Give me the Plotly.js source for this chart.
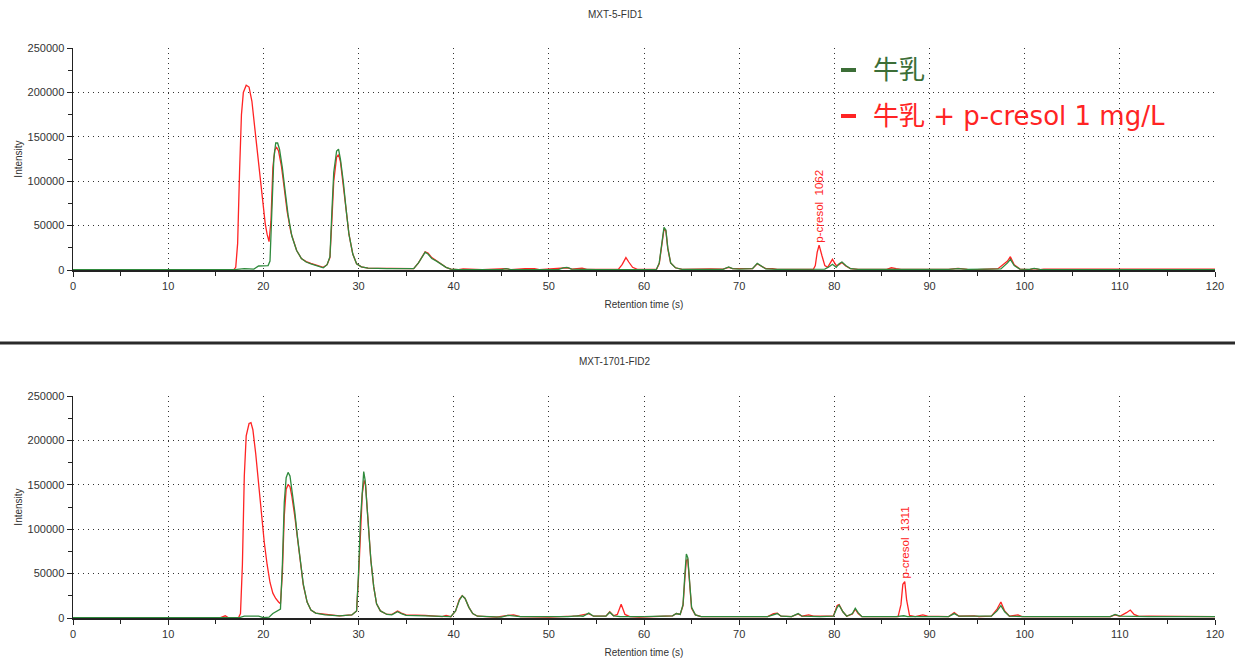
<!DOCTYPE html>
<html>
<head>
<meta charset="utf-8">
<script src="https://cdn.plot.ly/plotly-3.0.1.min.js"></script>
<style>html,body{margin:0;padding:0;background:#fff;}#chart{width:1235px;height:660px;}</style>
</head>
<body>
<div id="chart"></div>
<script>
// ---------- DATA ----------
const panelTitles = ["MXT-5-FID1", "MXT-1701-FID2"];
const seriesNames = ["牛乳", "牛乳 + p-cresol 1 mg/L"];
const peakLabels = ["p-cresol  1062", "p-cresol  1311"];
const peakLabelTimes = [78.4, 87.4];
const peakLabelValues = [28000, 42000];

// Top panel (MXT-5-FID1) - milk (green)
const topMilkT = [0,10,17,18,19,19.5,20.5,20.7,20.9,21.1,21.3,21.5,21.7,22.0,22.3,22.6,23.0,23.5,24.0,24.5,25.0,25.5,26.0,26.3,26.7,27.0,27.2,27.4,27.7,27.9,28.1,28.4,28.7,29.0,29.4,29.8,30.3,31,33,35,35.8,36.3,36.8,37.0,37.3,37.7,38.2,38.7,39.2,39.7,40.5,45,45.5,46,51,51.5,51.9,52.4,53,55,57,60,61.3,61.6,61.9,62.1,62.3,62.5,62.8,63.3,64,68.3,68.9,69.3,70,71.4,71.9,72.3,72.8,74,76,77,78,78.4,79,79.5,79.8,80.2,80.5,80.8,81.2,81.7,82.5,92,93,94,97.5,98.2,98.5,98.9,99.5,100.5,101,101.6,105,120];
const topMilkV = [500,500,500,1500,1000,4500,5000,10000,60000,125000,143000,143000,136000,115000,88000,62000,38000,22000,13000,9000,7000,5500,3500,2500,6000,15000,65000,110000,134000,136000,125000,100000,68000,40000,18000,7000,3500,2000,1500,1000,1500,8000,17000,20000,18000,13000,10000,6500,3000,1000,500,500,1500,500,500,2500,3000,1000,800,300,300,500,600,8000,35000,48000,45000,25000,8000,2500,800,800,3500,1500,1000,1500,7500,5000,1200,800,1000,1000,700,1500,1000,4000,6500,3000,7000,9000,5000,1500,800,700,1500,700,1200,8000,12000,5000,1000,800,1800,800,500,500];

// Top panel - milk + p-cresol (red)
const topSpikedT = [0,10,16.9,17.1,17.3,17.5,17.7,17.9,18.2,18.5,18.8,19.1,19.4,19.7,20.0,20.2,20.4,20.6,20.8,21.0,21.2,21.4,21.6,21.9,22.2,22.5,22.9,23.5,24.0,24.5,25.0,25.5,26.0,26.3,26.7,27.0,27.2,27.4,27.7,27.9,28.1,28.4,28.7,29.0,29.4,29.8,30.3,31,33,34.2,35,35.8,36.3,36.8,37.0,37.3,37.7,38.2,38.7,39.2,39.7,40.5,41,42.5,43,45.5,46,47.5,48.5,49,51.5,52,52.4,53.5,54,57.3,57.7,58.1,58.4,58.8,59.3,61.3,61.6,61.9,62.1,62.3,62.5,62.8,63.3,64,65,67,68.3,68.9,69.3,71.4,71.9,72.3,72.8,73.5,74,77.8,78.0,78.2,78.4,78.7,79.0,79.3,79.8,80.2,80.5,80.8,81.2,81.7,82.5,85.5,86,86.5,87,92,93,94,95,97.2,98.2,98.5,98.9,99.5,100.5,101,101.6,102,120];
const topSpikedV = [500,500,500,3000,30000,110000,175000,200000,208000,206000,190000,160000,130000,100000,70000,52000,40000,32000,55000,115000,135000,138000,134000,117000,92000,66000,42000,22000,13000,9500,7500,6000,4000,3000,6000,14000,55000,100000,127000,130000,122000,98000,68000,40000,18000,7000,3500,2000,1500,2000,1000,1500,8000,18000,20500,19000,14000,10500,6500,3000,1000,500,1200,1200,500,1500,500,1500,1500,500,2000,2500,1000,2000,800,800,6000,14000,9000,3000,800,600,7000,33000,46000,44000,24000,8000,2500,800,1200,1200,900,3000,1500,1500,7000,4500,1500,1500,800,800,5000,20000,28000,16000,5000,3000,12000,5000,6000,8500,4500,1500,800,800,2500,1500,800,800,1800,800,300,1500,10000,15000,6000,1000,300,1500,500,1000,1000];

// Bottom panel (MXT-1701-FID2) - milk (green)
const botMilkT = [0,17.5,18,19.5,20,20.6,21.0,21.4,21.8,22.0,22.2,22.4,22.6,22.8,23.0,23.3,23.6,23.9,24.2,24.6,25.0,25.5,26.5,28,29.3,29.8,30.0,30.2,30.4,30.55,30.7,30.9,31.1,31.3,31.6,31.9,32.3,33,33.5,34.1,34.5,35,37,39,39.7,40.2,40.6,40.9,41.2,41.6,42.0,42.5,43.5,45,45.7,46.5,47,52,53,53.6,54.2,54.7,56,56.4,56.8,57.5,60,63.0,63.4,63.8,64.1,64.3,64.45,64.6,64.8,65.0,65.4,66,73,73.6,74,74.4,75.5,76.2,76.6,78.5,79.9,80.3,80.5,80.9,81.3,81.9,82.2,82.5,82.9,86.5,87.3,87.7,92,92.6,93.1,96.5,97.1,97.5,97.9,98.4,100,109,109.5,110,113,120];
const botMilkV = [500,500,2000,2000,500,1000,5000,8000,10000,60000,130000,158000,164000,160000,145000,120000,90000,62000,38000,18000,9000,5500,3500,2500,3500,8000,50000,110000,150000,165000,155000,125000,95000,65000,35000,16000,8000,4000,3500,7000,5000,3000,2500,2000,1500,8000,20000,25000,22000,12000,5000,2000,1500,1000,3000,2500,1500,1500,2500,2000,5500,2000,2000,6500,2500,1500,1500,2500,5000,4000,15000,50000,72000,68000,35000,12000,3500,1500,1500,4000,5000,2000,1500,5000,2000,1500,2000,12000,14500,7000,2000,5000,11000,6000,1500,1500,2500,1500,1500,5000,2000,2000,8000,14000,7000,2000,1500,1500,4000,2000,1500,1500];

// Bottom panel - milk + p-cresol (red)
const botSpikedT = [0,15.5,16,16.3,17.4,17.6,17.8,18.0,18.2,18.5,18.7,18.9,19.2,19.5,19.8,20.1,20.4,20.7,21.0,21.3,21.6,21.8,22.0,22.2,22.4,22.6,22.8,23.0,23.3,23.6,23.9,24.2,24.6,25.0,25.5,26.5,28,29.3,29.8,30.0,30.2,30.4,30.6,30.75,30.9,31.1,31.3,31.6,31.9,32.3,33,33.5,34.1,34.5,35,37,38.8,39.2,39.7,40.2,40.6,40.9,41.2,41.6,42.0,42.5,43.5,44.5,45.7,46.3,47,50,52.5,53,54.2,54.7,56,56.4,56.8,57.2,57.6,58,58.5,59.5,63.0,63.4,63.8,64.1,64.3,64.45,64.6,64.8,65.0,65.4,66,73,73.6,74,74.4,75.5,76.2,76.6,77.3,77.8,79.9,80.3,80.5,80.9,81.3,81.9,82.2,82.5,82.9,86.7,87.0,87.2,87.4,87.6,87.9,88.5,89.3,89.8,92,92.6,93.1,94.7,95.2,96.5,97.1,97.5,97.9,98.4,99.3,99.7,109,109.5,110,110.7,111.1,111.5,112,113,120];
const botSpikedV = [500,500,2500,500,500,5000,60000,160000,205000,219000,220000,212000,185000,150000,120000,85000,60000,40000,28000,22000,18000,16000,50000,115000,145000,150000,148000,137000,115000,88000,60000,37000,18000,9000,5500,4000,2500,3500,8000,45000,100000,140000,155000,150000,125000,95000,65000,35000,16000,8000,4000,4000,8000,5500,3500,3000,1500,3000,1500,8000,21000,25000,22000,12000,5000,2000,1500,1000,3000,3500,1500,1000,2000,2500,5000,2000,2000,7000,2500,4000,15500,4000,1500,1000,2500,5000,4000,14000,45000,65000,66000,33000,11000,3500,1500,1500,5000,5500,2000,1500,4500,2000,3500,2000,2000,14000,15000,7000,2000,4500,10000,5000,1500,1500,15000,38000,41000,20000,3000,1500,3500,2000,1500,6000,2000,2500,1500,2000,10000,18000,8000,2000,3500,1500,1500,3500,2000,6000,9000,4000,1800,2000,1500];

// ---------- STYLE ----------
const GREEN = "#2f8a3c";
const GREEN_TEXT = "#3c6e37";
const RED = "#ff2424";
const W = 1235, H = 660, ML = 73, MR = 20;
const PW = W - ML - MR;
const px = v => (v - ML) / PW;          // page x pixel -> paper x
const py = v => 1 - v / H;              // page y pixel -> paper y

const tickFont = {family: "Liberation Sans, Arial, sans-serif", size: 11, color: "#333"};
const titleFont = {family: "Liberation Sans, Arial, sans-serif", size: 10, color: "#333"};

function xAxis(anchor) {
  return {
    anchor: anchor, domain: [0, 1], range: [0, 120], tick0: 0, dtick: 10,
    showgrid: true, gridcolor: "#333", griddash: "1px,4px", gridwidth: 1,
    showline: true, linecolor: "#222", linewidth: 1.5, zeroline: false,
    ticks: "outside", ticklen: 5, tickcolor: "#222", tickwidth: 1,
    minor: {dtick: 5, ticks: "outside", ticklen: 4, tickcolor: "#222", showgrid: false},
    tickfont: tickFont, automargin: false, fixedrange: true,
    title: {text: "Retention time (s)", font: titleFont, standoff: 10}
  };
}
function yAxis(anchor, dom) {
  return {
    anchor: anchor, domain: dom, range: [0, 250000], tick0: 0, dtick: 50000,
    tickformat: "d", showgrid: true, gridcolor: "#333", griddash: "1px,4px", gridwidth: 1,
    showline: true, linecolor: "#222", linewidth: 1.5, zeroline: false,
    ticks: "outside", ticklen: 5, tickcolor: "#222", tickwidth: 1,
    minor: {dtick: 25000, ticks: "outside", ticklen: 4, tickcolor: "#222", showgrid: false},
    tickfont: tickFont, automargin: false, fixedrange: true,
    title: {text: "Intensity", font: titleFont, standoff: 3}
  };
}

const traces = [
  {x: topSpikedT, y: topSpikedV, xaxis: "x", yaxis: "y", type: "scatter", mode: "lines", line: {color: RED, width: 1.3}, name: seriesNames[1]},
  {x: topMilkT, y: topMilkV, xaxis: "x", yaxis: "y", type: "scatter", mode: "lines", line: {color: GREEN, width: 1.3}, name: seriesNames[0]},
  {x: botSpikedT, y: botSpikedV, xaxis: "x2", yaxis: "y2", type: "scatter", mode: "lines", line: {color: RED, width: 1.3}, name: seriesNames[1]},
  {x: botMilkT, y: botMilkV, xaxis: "x2", yaxis: "y2", type: "scatter", mode: "lines", line: {color: GREEN, width: 1.3}, name: seriesNames[0]}
];

const legendFont = {family: "DejaVu Sans, Noto Sans CJK JP, sans-serif", size: 26};

const layout = {
  width: W, height: H,
  margin: {l: ML, r: MR, t: 0, b: 0},
  paper_bgcolor: "#fff", plot_bgcolor: "#fff",
  showlegend: false,
  xaxis: xAxis("y"),
  yaxis: yAxis("x", [py(270), py(48)]),
  xaxis2: xAxis("y2"),
  yaxis2: yAxis("x2", [py(618), py(396)]),
  shapes: [
    {type: "line", xref: "paper", yref: "paper", x0: px(0), x1: px(W), y0: py(343), y1: py(343), line: {color: "#2a2a2a", width: 3}},
    {type: "line", xref: "paper", yref: "paper", x0: px(841), x1: px(856), y0: py(70), y1: py(70), line: {color: GREEN_TEXT, width: 4}},
    {type: "line", xref: "paper", yref: "paper", x0: px(841), x1: px(856), y0: py(116), y1: py(116), line: {color: RED, width: 4}}
  ],
  annotations: [
    {text: panelTitles[0], xref: "paper", yref: "paper", x: px(615), y: py(14), showarrow: false, xanchor: "center", yanchor: "middle", font: titleFont},
    {text: panelTitles[1], xref: "paper", yref: "paper", x: px(615), y: py(361), showarrow: false, xanchor: "center", yanchor: "middle", font: titleFont},
    {text: seriesNames[0], xref: "paper", yref: "paper", x: px(871), y: py(70), showarrow: false, xanchor: "left", yanchor: "middle", font: Object.assign({color: GREEN_TEXT}, legendFont)},
    {text: seriesNames[1], xref: "paper", yref: "paper", x: px(871), y: py(116), showarrow: false, xanchor: "left", yanchor: "middle", font: Object.assign({color: RED}, legendFont)},
    {text: peakLabels[0], xref: "x", yref: "y", x: peakLabelTimes[0], y: peakLabelValues[0], showarrow: false, textangle: -90, xanchor: "center", yanchor: "bottom", font: {family: "Liberation Sans, Arial, sans-serif", size: 11.5, color: RED}},
    {text: peakLabels[1], xref: "x2", yref: "y2", x: peakLabelTimes[1], y: peakLabelValues[1], showarrow: false, textangle: -90, xanchor: "center", yanchor: "bottom", font: {family: "Liberation Sans, Arial, sans-serif", size: 11.5, color: RED}}
  ]
};

Plotly.newPlot("chart", traces, layout, {staticPlot: true, displayModeBar: false});
</script>
</body>
</html>
